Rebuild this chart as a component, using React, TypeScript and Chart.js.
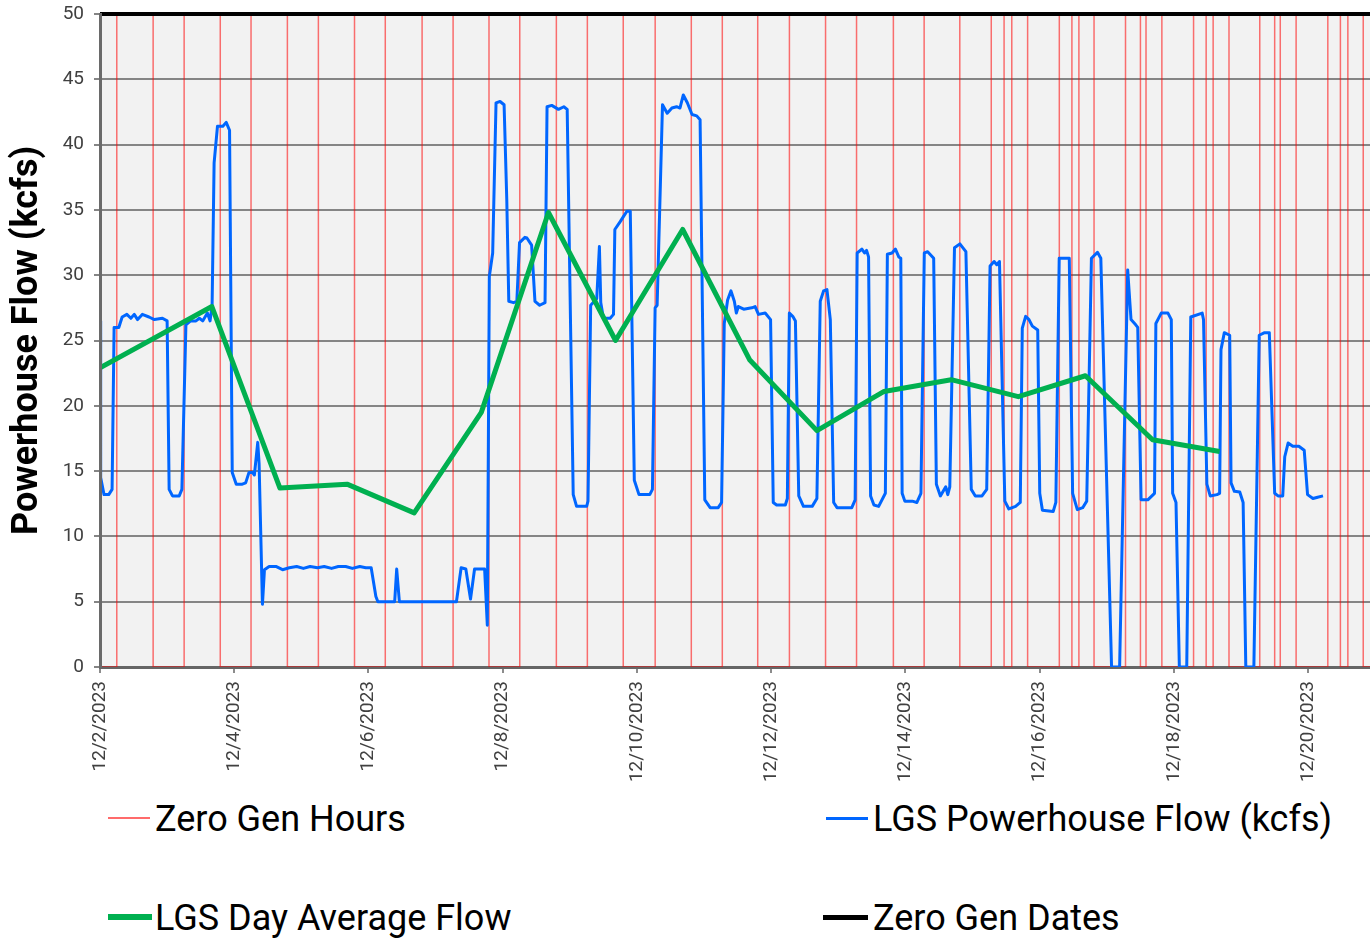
import React, { useEffect, useRef } from "react";
import { Chart, registerables } from "chart.js";

Chart.register(...registerables);

// ---------- data ----------
const tickLabels = [
  "12/2/2023", "12/4/2023", "12/6/2023", "12/8/2023", "12/10/2023",
  "12/12/2023", "12/14/2023", "12/16/2023", "12/18/2023", "12/20/2023",
];

// hourly powerhouse flow: time in days since 12/2/2023 00:00, value in kcfs
const flowDays = [
  0.00, 0.01, 0.06, 0.13, 0.18, 0.21, 0.28, 0.33, 0.40, 0.46, 0.51, 0.56, 0.63, 0.73, 0.81, 0.93, 1.00,
  1.03, 1.08, 1.18, 1.22, 1.28, 1.35, 1.43, 1.48, 1.53, 1.60, 1.64, 1.67, 1.70, 1.75, 1.83, 1.88, 1.93,
  1.97, 2.03, 2.12, 2.17, 2.22, 2.27, 2.30, 2.35, 2.37, 2.42, 2.45, 2.52, 2.62, 2.72, 2.82, 2.93, 3.03,
  3.13, 3.24, 3.34, 3.45, 3.55, 3.66, 3.76, 3.87, 3.96, 4.04, 4.11, 4.14, 4.39, 4.42, 4.46, 5.31, 5.38,
  5.45, 5.52, 5.58, 5.73, 5.77, 5.80, 5.85, 5.90, 5.96, 6.02, 6.06, 6.09, 6.16, 6.21, 6.25, 6.33, 6.36,
  6.43, 6.48, 6.55, 6.63, 6.66, 6.73, 6.83, 6.91, 6.96, 7.05, 7.10, 7.25, 7.27, 7.31, 7.40, 7.44, 7.46,
  7.50, 7.60, 7.65, 7.67, 7.75, 7.80, 7.85, 7.90, 7.96, 8.03, 8.19, 8.23, 8.27, 8.30, 8.38, 8.45, 8.52,
  8.59, 8.64, 8.69, 8.75, 8.82, 8.89, 8.94, 9.01, 9.09, 9.21, 9.26, 9.30, 9.35, 9.40, 9.45, 9.48, 9.51,
  9.59, 9.71, 9.76, 9.81, 9.91, 9.99, 10.03, 10.08, 10.21, 10.24, 10.27, 10.32, 10.36, 10.41, 10.48,
  10.61, 10.68, 10.73, 10.78, 10.83, 10.88, 10.93, 10.98, 11.20, 11.25, 11.28, 11.35, 11.39, 11.42,
  11.45, 11.48, 11.53, 11.60, 11.70, 11.73, 11.80, 11.85, 11.90, 11.93, 11.95, 11.99, 12.10, 12.17,
  12.23, 12.28, 12.33, 12.42, 12.46, 12.52, 12.60, 12.63, 12.66, 12.73, 12.81, 12.90, 12.98, 13.04,
  13.14, 13.21, 13.26, 13.32, 13.36, 13.40, 13.48, 13.54, 13.64, 13.71, 13.74, 13.79, 13.84, 13.89,
  13.97, 14.00, 14.04, 14.20, 14.24, 14.29, 14.44, 14.49, 14.56, 14.64, 14.70, 14.77, 14.86, 14.91,
  15.07, 15.19, 15.31, 15.36, 15.43, 15.46, 15.51, 15.61, 15.71, 15.73, 15.81, 15.91, 15.96, 15.98,
  16.03, 16.08, 16.19, 16.25, 16.42, 16.44, 16.49, 16.54, 16.64, 16.68, 16.70, 16.75, 16.83, 16.85,
  16.90, 16.98, 17.03, 17.07, 17.19, 17.27, 17.35, 17.42, 17.50, 17.55, 17.62, 17.65, 17.70, 17.77,
  17.86, 17.94, 17.99, 18.07, 18.14, 18.22,
];
const flowValues = [
  26.5, 14.5, 13.2, 13.2, 13.6, 26.0, 26.0, 26.8, 27.0, 26.7, 27.0, 26.6, 27.0, 26.8, 26.6, 26.7, 26.5,
  13.6, 13.1, 13.1, 13.6, 26.2, 26.5, 26.5, 26.7, 26.5, 27.1, 26.5, 27.7, 38.6, 41.4, 41.4, 41.7, 41.1,
  14.9, 14.0, 14.0, 14.1, 14.9, 14.9, 14.7, 17.2, 15.6, 4.8, 7.45, 7.7, 7.7, 7.45, 7.6, 7.7, 7.55,
  7.7, 7.6, 7.7, 7.55, 7.7, 7.7, 7.55, 7.7, 7.6, 7.6, 5.4, 5.0, 5.0, 7.5, 5.0, 5.0, 7.6,
  7.5, 5.2, 7.5, 7.5, 3.2, 29.9, 31.7, 43.2, 43.3, 43.05, 35.8, 28.0, 27.9, 28.0, 32.5, 32.9, 32.85,
  32.3, 28.0, 27.7, 27.9, 42.9, 43.0, 42.7, 42.9, 42.7, 13.2, 12.3, 12.3, 12.7, 27.7, 28.2, 32.2, 27.9,
  26.7, 26.7, 27.0, 33.5, 34.1, 34.5, 34.9, 34.9, 14.3, 13.2, 13.2, 13.6, 27.5, 27.7, 43.05, 42.4, 42.8,
  42.9, 42.8, 43.8, 43.2, 42.3, 42.2, 41.9, 12.8, 12.2, 12.2, 12.6, 26.3, 28.1, 28.8, 28.0, 27.1, 27.6,
  27.4, 27.5, 27.6, 27.0, 27.1, 26.6, 12.6, 12.4, 12.4, 12.9, 27.1, 26.85, 26.5, 13.1, 12.3,
  12.3, 12.9, 28.0, 28.8, 28.9, 26.6, 12.6, 12.2, 12.2, 12.8, 31.7, 32.0, 31.7, 31.9,
  31.4, 13.1, 12.4, 12.3, 13.3, 31.6, 31.7, 32.0, 31.4, 31.3, 13.3, 12.7, 12.7, 12.6,
  13.3, 31.7, 31.8, 31.3, 14.0, 13.1, 13.8, 13.2, 13.8, 32.1, 32.4, 31.8, 13.6, 13.1,
  13.1, 13.6, 30.7, 31.05, 30.8, 31.05, 12.7, 12.1, 12.3, 12.6, 25.95, 26.85, 26.6, 26.1,
  25.8, 13.3, 12.0, 11.9, 12.6, 31.3, 31.3, 13.3, 12.05, 12.2, 12.7, 31.3, 31.75, 31.3,
  0.0, 0.0, 30.4, 26.6, 26.2, 26.0, 12.8, 12.8, 13.3, 26.3, 27.1, 27.1, 26.6, 13.3,
  12.6, 0.0, 0.0, 26.8, 27.1, 26.6, 14.0, 13.1, 13.2, 13.3, 24.3, 25.6, 25.4, 14.1,
  13.45, 13.4, 12.6, 0.0, 0.0, 25.4, 25.6, 25.6, 13.3, 13.1, 13.1, 16.1, 17.15, 16.9,
  16.9, 16.6, 13.2, 12.9, 13.0, 13.1,
];

// day average flow
const avgTimes = [
  "12/2/2023 00:00", "12/3/2023 16:00", "12/4/2023 16:20", "12/5/2023 16:20", "12/6/2023 16:20",
  "12/7/2023 16:20", "12/8/2023 16:20", "12/9/2023 16:20", "12/10/2023 16:20", "12/11/2023 16:20",
  "12/12/2023 16:20", "12/13/2023 16:20", "12/14/2023 16:20", "12/15/2023 16:20", "12/16/2023 16:20",
  "12/17/2023 16:20", "12/18/2023 16:20",
];
const avgValues = [
  22.9, 27.6, 13.7, 14.0, 11.8, 19.5, 34.8, 25.0, 33.5, 23.5, 18.1, 21.1, 22.0, 20.7, 22.3, 17.4, 16.5,
];

// zero generation hours (start / end of each zero-gen period)
const zeroGenStart = [
  "12/2/2023 00:00", "12/2/2023 19:00", "12/3/2023 19:00", "12/4/2023 19:00", "12/5/2023 19:00",
  "12/6/2023 19:10", "12/7/2023 19:05", "12/8/2023 19:10", "12/9/2023 19:05", "12/10/2023 19:25",
  "12/11/2023 19:10", "12/12/2023 19:25", "12/13/2023 19:40", "12/14/2023 19:25", "12/15/2023 11:15",
  "12/15/2023 19:40", "12/16/2023 11:30", "12/16/2023 19:25", "12/17/2023 12:00", "12/17/2023 19:40",
  "12/18/2023 11:30", "12/18/2023 19:40", "12/19/2023 12:00", "12/19/2023 19:40", "12/20/2023 11:30",
  "12/20/2023 19:40",
];
const zeroGenEnd = [
  "12/2/2023 06:00", "12/3/2023 06:05", "12/4/2023 06:00", "12/5/2023 06:05", "12/6/2023 06:00",
  "12/7/2023 06:15", "12/8/2023 06:05", "12/9/2023 06:15", "12/10/2023 06:30", "12/11/2023 06:30",
  "12/12/2023 06:30", "12/13/2023 06:30", "12/14/2023 06:40", "12/15/2023 06:40", "12/15/2023 14:00",
  "12/16/2023 07:00", "12/16/2023 14:00", "12/17/2023 06:40", "12/17/2023 14:00", "12/18/2023 07:00",
  "12/18/2023 14:00", "12/19/2023 06:40", "12/19/2023 14:00", "12/20/2023 07:00", "12/20/2023 14:10",
  "12/21/2023 07:00",
];
const zeroGenHigh = 50;

// zero generation dates marker
const zeroGenDates = ["12/2/2023 00:00", "12/21/2023 12:00"];
const zeroGenDateValues = [50, 50];

const axisStart = "12/2/2023 00:00";
const axisEnd = "12/20/2023 22:05";

// ---------- helpers ----------
function toMs(s: string): number {
  const [d, t] = s.split(" ");
  const [m, dd, y] = d.split("/").map(Number);
  const [hh, mm] = (t || "00:00").split(":").map(Number);
  return Date.UTC(y, m - 1, dd, hh, mm);
}
const T0 = toMs(axisStart);
function toDays(s: string): number {
  return (toMs(s) - T0) / 86400000;
}

const legendItems = [
  { label: "Zero Gen Hours", color: "rgba(255,70,70,0.8)", thick: 2, swX: 108, swW: 42, txX: 155, cy: 818 },
  { label: "LGS Powerhouse Flow (kcfs)", color: "#0066ff", thick: 3, swX: 826, swW: 42, txX: 873, cy: 818 },
  { label: "LGS Day Average Flow", color: "#00b050", thick: 6, swX: 108, swW: 44, txX: 155, cy: 917 },
  { label: "Zero Gen Dates", color: "#000000", thick: 5, swX: 823, swW: 45, txX: 873, cy: 917 },
];

export default function App() {
  const ref = useRef<HTMLCanvasElement | null>(null);

  useEffect(() => {
    if (!ref.current) return;

    const flowData = flowDays.map((x, i) => ({ x, y: flowValues[i] }));
    const avgData = avgTimes.map((t, i) => ({ x: toDays(t), y: avgValues[i] }));
    const redData: { x: number; y: number }[] = [];
    zeroGenStart.forEach((s, i) => {
      const a = toDays(s);
      const b = toDays(zeroGenEnd[i]);
      redData.push({ x: a, y: zeroGenHigh }, { x: a, y: 0 }, { x: b, y: 0 }, { x: b, y: zeroGenHigh });
    });
    const blackData = zeroGenDates.map((t, i) => ({ x: toDays(t), y: zeroGenDateValues[i] }));
    const tickDays = tickLabels.map((t) => toDays(t + " 00:00"));

    const bgPlugin = {
      id: "plotBg",
      beforeDraw(chart: any) {
        const { ctx, chartArea: a } = chart;
        ctx.save();
        ctx.fillStyle = "#f2f2f2";
        ctx.fillRect(a.left, a.top, a.right - a.left, a.bottom - a.top);
        ctx.restore();
      },
    };

    const tickFont = { family: "Roboto", size: 19 };

    const chart = new Chart(ref.current, {
      type: "line",
      data: {
        datasets: [
          {
            label: "Zero Gen Dates",
            data: blackData,
            borderColor: "#000000",
            borderWidth: 4,
            pointRadius: 0,
            clip: { left: 0, top: 8, right: 8, bottom: 0 },
          } as any,
          {
            label: "LGS Day Average Flow",
            data: avgData,
            borderColor: "#00b050",
            borderWidth: 5,
            pointRadius: 0,
            borderJoinStyle: "round",
          },
          {
            label: "LGS Powerhouse Flow (kcfs)",
            data: flowData,
            borderColor: "#0066ff",
            borderWidth: 3,
            pointRadius: 0,
            borderJoinStyle: "round",
          },
          {
            label: "Zero Gen Hours",
            data: redData,
            borderColor: "rgba(255,0,0,0.55)",
            borderWidth: 1.5,
            pointRadius: 0,
          },
        ],
      },
      options: {
        responsive: false,
        animation: false,
        devicePixelRatio: 1,
        parsing: false as any,
        layout: { padding: { top: 14, right: 0, left: 0, bottom: 0 } },
        plugins: { legend: { display: false }, tooltip: { enabled: false } },
        scales: {
          x: {
            type: "linear",
            min: 0,
            max: toDays(axisEnd),
            afterBuildTicks: (s: any) => {
              s.ticks = tickDays.map((v) => ({ value: v }));
            },
            afterFit: (s: any) => {
              s.height = 123;
              s.paddingLeft = 0;
              s.paddingRight = 0;
            },
            ticks: {
              autoSkip: false,
              minRotation: 90,
              maxRotation: 90,
              padding: 8,
              font: tickFont,
              color: "#404040",
              callback: (v: any) => {
                const i = tickDays.findIndex((d) => Math.abs(d - Number(v)) < 1e-6);
                return i >= 0 ? tickLabels[i] : "";
              },
            },
            grid: { drawOnChartArea: false, drawTicks: true, tickLength: 6, color: "#8c8c8c", lineWidth: 2 },
            border: { display: true, color: "#666666", width: 3 },
          },
          y: {
            min: 0,
            max: 50,
            afterFit: (s: any) => {
              s.width = 100;
              s.paddingTop = 0;
              s.paddingBottom = 0;
            },
            ticks: { stepSize: 5, padding: 10, font: tickFont, color: "#404040" },
            grid: { color: "#858585", lineWidth: 2, tickLength: 6 },
            border: { display: true, color: "#6a6a6a", width: 3, z: 1 },
            title: {
              display: true,
              text: "Powerhouse Flow (kcfs)",
              font: { family: "Roboto", size: 36, weight: "bold" },
              color: "#000000",
              padding: { top: 6, bottom: 0 },
            },
          },
        },
      },
      plugins: [bgPlugin],
    });

    return () => chart.destroy();
  }, []);

  return (
    <div
      style={{
        position: "fixed",
        left: 0,
        top: 0,
        width: 1370,
        height: 938,
        overflow: "hidden",
        background: "#ffffff",
      }}
    >
      <canvas ref={ref} width={1370} height={790} style={{ position: "absolute", left: 0, top: 0 }} />
      {legendItems.map((it) => (
        <React.Fragment key={it.label}>
          <div
            style={{
              position: "absolute",
              left: it.swX,
              top: it.cy - it.thick / 2,
              width: it.swW,
              height: it.thick,
              background: it.color,
            }}
          />
          <div
            style={{
              position: "absolute",
              left: it.txX,
              top: it.cy + 13 - 30.3,
              fontFamily: "Roboto",
              fontSize: 36,
              lineHeight: "36px",
              color: "#000",
              whiteSpace: "nowrap",
            }}
          >
            {it.label}
          </div>
        </React.Fragment>
      ))}
    </div>
  );
}
